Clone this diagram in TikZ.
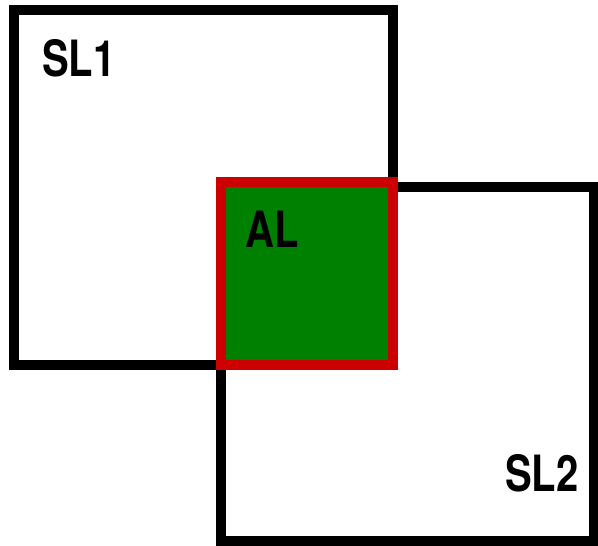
\documentclass[tikz,border=0pt]{standalone}
\usepackage{fontspec}
\setmainfont{TeX Gyre Heros}
\definecolor{alred}{RGB}{204,0,0}
\definecolor{algreen}{RGB}{0,128,0}
\begin{document}
\begin{tikzpicture}[x=1pt,y=-1pt,
  box/.style={draw=black,line width=10pt},
  albox/.style={draw=alred,fill=algreen,line width=10pt},
  lbl/.style={anchor=base west,inner sep=0pt,xscale=0.8,font=\fontsize{50}{50}\selectfont\bfseries}]
\useasboundingbox (0,0) rectangle (598,546);
\draw[box] (14,10) rectangle (393,365);
\draw[box] (221,187) rectangle (594,541);
\draw[albox] (221,182) rectangle (393,365);
\node[lbl] (sl1) at (42,76) {SL1};
\node[lbl] (al) at (245.5,247) {AL};
\node[lbl] (sl2) at (505,491) {SL2};
\end{tikzpicture}
\end{document}
